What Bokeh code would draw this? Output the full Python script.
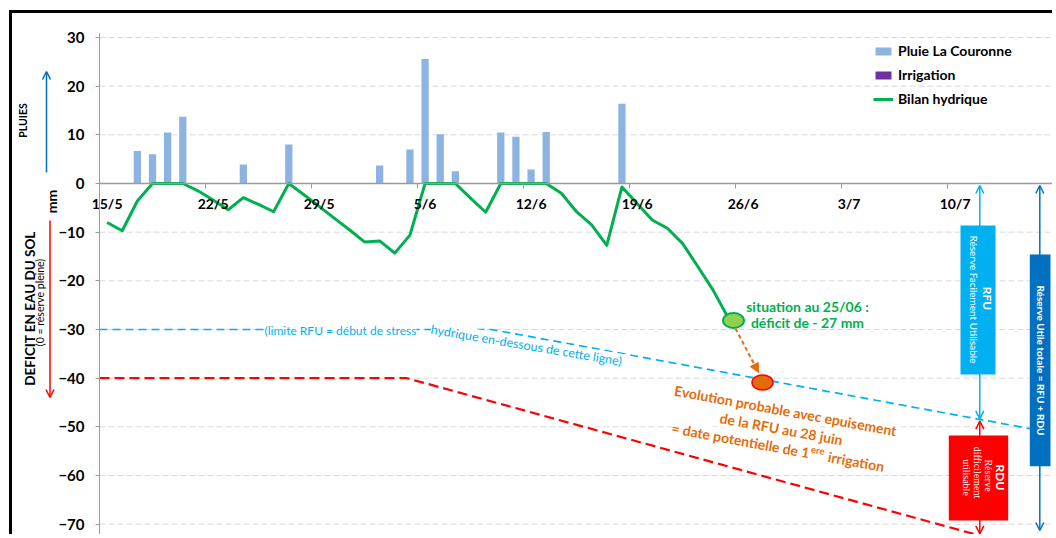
import math
from datetime import date

from bokeh.plotting import figure
from bokeh.models import (LinearAxis, FixedTicker, Range1d, Label, Arrow,
                          OpenHead, NormalHead)
from bokeh.embed import file_html
from bokeh.resources import INLINE

# ---------------- data ----------------
tick_labels = ["15/5", "22/5", "29/5", "5/6", "12/6", "19/6", "26/6", "3/7", "10/7"]

rain_dates = ["17/5", "18/5", "19/5", "20/5", "24/5", "27/5", "2/6", "4/6",
              "5/6", "6/6", "7/6", "10/6", "11/6", "12/6", "13/6", "18/6"]
rain_mm = [6.7, 6.0, 10.5, 13.7, 3.9, 8.0, 3.7, 7.0,
           25.6, 10.1, 2.5, 10.5, 9.6, 2.9, 10.6, 16.4]

irrigation_dates = ["15/5"]
irrigation_mm = [0]

bilan_start = "15/5"   # daily values from 15/5 to 25/6
bilan_mm = [-8.0, -9.7, -3.6, 0, 0, 0, -1.5, -3.4, -5.4, -2.9, -4.3, -5.8,
            0, -2.3, -4.7, -7.1, -9.5, -12.0, -11.8, -14.3, -10.6,
            0, 0, 0, -3.0, -5.9, 0, 0, 0, 0, -2.0, -5.8, -8.5, -12.7,
            -0.7, -4.1, -7.5, -9.2, -12.3, -17.0, -21.8, -27.5]

# threshold lines (day offsets from 15/5, mm)
rfu_days = [-0.5, 25.4, 61.0]
rfu_mm = [-30, -30, -50.4]
ru_days = [-0.5, 19.8, 62.5]
ru_mm = [-40, -40, -76.5]

y_ticks = list(range(-70, 31, 10))


def day_of(s):
    d, m = map(int, s.split("/"))
    return (date(2014, m, d) - date(2014, 5, 15)).days


rain_x = [day_of(s) for s in rain_dates]
irr_x = [day_of(s) for s in irrigation_dates]
bilan_x = [day_of(bilan_start) + i for i in range(len(bilan_mm))]
tick_pos = [day_of(t) for t in tick_labels]

# ---------------- geometry (page pixels) ----------------
OX, OY = 12, 13                 # canvas origin inside the chart border
AXL, AXR = -0.5, 62.5           # extent of the date axis
PXD = 954 / (AXR - AXL)         # pixels per day
PXV = 4.867                     # pixels per mm
ML, MR, MT, MB = 0, 2, 14, 0
X0 = AXL - (99 - OX - ML) / PXD  # frame reaches the left border
X1 = AXR
FL, FT = OX + ML, OY + MT
Y1 = 30 + (37 - FT) / PXV       # value 30 sits at page y = 37
H = 524
Y0 = Y1 - (H - MT - MB) / PXV
W = ML + MR + round((X1 - X0) * PXD)


def at(xp, yp):
    """page pixel -> data coordinates (for annotations)"""
    return X0 + (xp - FL) / PXD, Y1 - (yp - FT) / PXV


FONT = "Lato"
GRAY = "#9a9a9a"

p = figure(width=W, height=H, output_backend="svg", toolbar_location=None, title=None,
           x_range=Range1d(X0, X1), y_range=Range1d(Y0, Y1),
           x_axis_location=None, y_axis_location=None,
           min_border_left=ML, min_border_right=MR, min_border_top=MT,
           min_border_bottom=MB,
           styles={"margin-left": "9px", "margin-top": "10px",
                   "border-left": "3px solid black", "border-top": "3px solid black"})
p.outline_line_color = None
p.background_fill_color = "white"
p.border_fill_color = "white"
p.grid.visible = False

# horizontal grid lines (dashed) between the axis and the right edge
p.segment(x0=[AXL] * len(y_ticks), x1=[AXR] * len(y_ticks), y0=y_ticks, y1=y_ticks,
          line_color="#d9d9d9", line_dash="6 3", line_width=1, level="underlay")

# y axis: line + ticks at the start of the dates
yt = FixedTicker(ticks=y_ticks)
yrule = LinearAxis(fixed_location=AXL, ticker=yt, bounds=(Y0, 30.75),
                   major_tick_out=4, major_tick_in=0,
                   minor_tick_out=0, minor_tick_in=0, axis_line_color=GRAY,
                   major_tick_line_color=GRAY, major_label_text_color=None,
                   major_label_text_font_size="15px", major_label_standoff=-60)
p.add_layout(yrule, "left")
# y axis tick labels, right edge 15px left of the axis line
lab_loc = at(99 - 15 - 30, 0)[0]
ylabels = LinearAxis(fixed_location=lab_loc, ticker=yt, major_tick_out=0, major_tick_in=0,
                     minor_tick_out=0, minor_tick_in=0, axis_line_color=None,
                     major_tick_line_color=None, major_label_standoff=-30,
                     major_label_text_font=FONT, major_label_text_font_style="bold",
                     major_label_text_font_size="15px", major_label_text_color="black")
p.add_layout(ylabels, "left")

# x axis at y = 0
xaxis = LinearAxis(
    fixed_location=0, bounds=(AXL, AXR),
    ticker=FixedTicker(ticks=tick_pos, minor_ticks=[AXL + 7 * k for k in range(10)]),
    major_label_overrides={tp: t for tp, t in zip(tick_pos, tick_labels)},
    major_tick_in=0, major_tick_out=0, minor_tick_in=5, minor_tick_out=0,
    minor_tick_line_color=GRAY, axis_line_color=GRAY, axis_line_width=1.5,
    major_label_standoff=-28, major_label_text_font=FONT,
    major_label_text_font_style="bold", major_label_text_font_size="14px",
    major_label_text_color="black")
p.add_layout(xaxis, "above")

# threshold lines
p.line(rfu_days, rfu_mm, line_color="#00b0f0", line_width=1.7, line_dash="8 5")
p.line(ru_days, ru_mm, line_color="#ff0000", line_width=2.2, line_dash="10 5")

# series
p.vbar(x=rain_x, top=rain_mm, bottom=0, width=0.48, fill_color="#8db3e2",
       line_color=None, legend_label="Pluie La Couronne")
p.vbar(x=irr_x, top=irrigation_mm, bottom=0, width=0.48, fill_color="#7030a0",
       line_color=None, legend_label="Irrigation")
p.line(bilan_x, bilan_mm, line_color="#00b050", line_width=3, line_join="round",
       legend_label="Bilan hydrique")

p.legend.location = (873 - FL, OY + H - 107)
p.legend.background_fill_alpha = 0
p.legend.border_line_alpha = 0
p.legend.padding = 0
p.legend.margin = 0
p.legend.spacing = 7
p.legend.glyph_width = 20
p.legend.glyph_height = 10
p.legend.label_height = 16
p.legend.label_standoff = 5
p.legend.label_text_font = FONT
p.legend.label_text_font_style = "bold"
p.legend.label_text_font_size = "14px"
p.legend.label_text_color = "black"


def lab(xp, yp, text, size, color, style="normal", angle=0.0, align="center",
        font=FONT, bg=None):
    x, y = at(xp, yp)
    kw = {}
    if bg is not None:
        kw["background_fill_color"] = bg
    p.add_layout(Label(x=x, y=y, text=text, angle=angle, text_align=align,
                       text_baseline="middle", text_font=font,
                       text_font_size=size, text_font_style=style,
                       text_color=color, **kw))


def arrow(x1, y1, x2, y2, color, width=1.5, start=True, end=True, level="underlay",
          dash="solid", head=None):
    xs, ys = at(x1, y1)
    xe, ye = at(x2, y2)
    sh = OpenHead(size=8, line_color=color, line_width=width) if start else None
    eh = head if head is not None else (OpenHead(size=8, line_color=color, line_width=width) if end else None)
    p.add_layout(Arrow(x_start=xs, y_start=ys, x_end=xe, y_end=ye, start=sh, end=eh,
                       line_color=color, line_width=width, line_dash=dash, level=level))


# right-hand reservoir boxes: arrows behind boxes
arrow(979.3, 185, 979.3, 418.3, "#00b0f0")
arrow(979.3, 420.7, 979.3, 533.3, "#ff0000")
arrow(1039.3, 185, 1039.3, 530, "#0070c0")

boxes = [((960, 225, 995, 374), "#00b0f0"),
         ((948.3, 435, 1007.7, 520), "#ff0000"),
         ((1029.3, 254, 1050, 465.7), "#0070c0")]
for (l, t, r, b), c in boxes:
    bx0, by0 = at(l, t)
    bx1, by1 = at(r, b)
    p.quad(left=[bx0], right=[bx1], top=[by0], bottom=[by1], fill_color=c, line_color=None)

V = -math.pi / 2
lab(987, 298, "RFU", "12px", "white", "bold", V)
lab(973, 299, "Réserve Facilement Utilisable", "10px", "white", "normal", V)
lab(1000, 477, "RDU", "12px", "white", "bold", V)
lab(988, 475, "Réserve", "10px", "white", "normal", V, font="Liberation Serif")
lab(977, 472, "difficilement", "10px", "white", "normal", V, font="Liberation Serif")
lab(966, 477, "utilisable", "10px", "white", "normal", V, font="Liberation Serif")
lab(1040, 360, "Réserve Utile totale = RFU + RDU", "10px", "white", "bold", V)

# RFU limit text
lab(264, 330, "(limite RFU = début de stress", "12px", "#00b0f0", align="left", bg="white")
lab(527.5, 345, "hydrique en-dessous  de cette ligne)", "12.5px", "#00b0f0",
    angle=-math.radians(9.6), bg="white")

# situation markers
gx, gy = at(733, 320)
p.ellipse(x=[gx], y=[gy], width=21, height=15, width_units="screen",
          height_units="screen", fill_color="#92d050", line_color="#00b050", line_width=2)
ox, oy = at(762, 382)
p.ellipse(x=[ox], y=[oy], width=21, height=15, width_units="screen",
          height_units="screen", fill_color="#e36c0a", line_color="#ff0000", line_width=1.5)
arrow(735, 328, 758, 372, "#e46c0a", width=2, start=False, level="annotation",
      dash="4 3", head=NormalHead(size=9, fill_color="#e46c0a", line_color="#e46c0a"))

lab(807, 306, "situation au 25/06 :", "14px", "#00b050", "bold")
lab(807, 322, "déficit de - 27 mm", "14px", "#00b050", "bold")

th = math.radians(10.4)
ang = -th
ORANGE = "#e46c0a"
lab(785, 410, "Evolution probable avec epuisement", "14px", ORANGE, "bold", ang, bg="white")
lab(780.7, 428.3, "de la RFU au 28 juin", "14px", ORANGE, "bold", ang, bg="white")
ax_, ay_ = 809.0, 452.4
ux, uy = math.cos(th), math.sin(th)
nx, ny = math.sin(th), -math.cos(th)
lab(ax_, ay_, "= date potentielle de 1", "14px", ORANGE, "bold", ang, align="right", bg="white")
lab(ax_ + 1 * ux + 4 * nx, ay_ + 1 * uy + 4 * ny, "ere", "9.5px", ORANGE, "bold", ang, align="left")
lab(ax_ + 19 * ux, ay_ + 19 * uy, "irrigation", "14px", ORANGE, "bold", ang, align="left", bg="white")

# left margin annotations
U = math.pi / 2
lab(22.5, 120, "PLUIES", "10.5px", "black", "bold", U)
lab(51, 201, "mm", "14px", "black", "bold", U)
lab(29, 308, "DEFICIT EN EAU DU SOL", "13.5px", "black", "bold", U)
lab(39.5, 302, "(0 = réserve pleine)", "10.5px", "black", "normal", U)
arrow(46, 172, 46, 71, "#0070c0", start=False, level="annotation")
arrow(49.5, 220, 49.5, 397, "#ff0000", start=False, level="annotation")

open("out.html", "w").write(file_html(p, INLINE))
